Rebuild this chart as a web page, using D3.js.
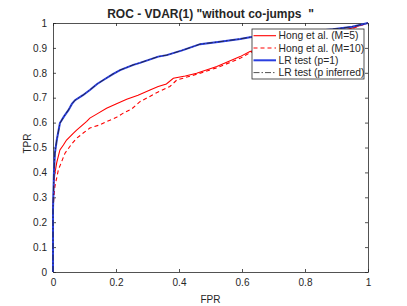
<!DOCTYPE html>
<html>
<head>
<meta charset="utf-8">
<script src="https://d3js.org/d3.v7.min.js"></script>
<style>
  body { margin: 0; background: #fff; }
  text { font-family: "Liberation Sans", Arial, sans-serif; fill: #262626; }
</style>
</head>
<body>
<div id="chart"></div>
<script>
// canvas
var w = 407, h = 306;
var margin = {top: 23, right: 39, bottom: 34, left: 53};
var width = w - margin.left - margin.right;
var height = h - margin.top - margin.bottom;

// data
var hong5Fpr = [0, 0, 0.003, 0.006, 0.012, 0.022, 0.033, 0.043, 0.065, 0.075, 0.107, 0.117, 0.14, 0.17, 0.2, 0.234, 0.27, 0.308, 0.334, 0.36, 0.382, 0.42, 0.456, 0.52, 0.594, 0.625, 0.7, 0.784, 0.85, 0.889, 0.95, 1];
var hong5Tpr = [0, 0.27, 0.36, 0.397, 0.44, 0.49, 0.51, 0.53, 0.558, 0.57, 0.605, 0.618, 0.635, 0.658, 0.675, 0.694, 0.71, 0.731, 0.745, 0.755, 0.778, 0.787, 0.798, 0.825, 0.865, 0.885, 0.905, 0.925, 0.945, 0.96, 0.98, 1];

var hong10Fpr = [0, 0, 0.003, 0.006, 0.017, 0.038, 0.06, 0.075, 0.096, 0.117, 0.149, 0.17, 0.2, 0.223, 0.25, 0.276, 0.3, 0.329, 0.371, 0.393, 0.456, 0.52, 0.594, 0.625, 0.7, 0.784, 0.85, 0.889, 0.95, 1];
var hong10Tpr = [0, 0.25, 0.3, 0.343, 0.41, 0.477, 0.515, 0.537, 0.558, 0.578, 0.591, 0.604, 0.62, 0.638, 0.655, 0.684, 0.7, 0.72, 0.745, 0.771, 0.794, 0.82, 0.858, 0.88, 0.9, 0.92, 0.94, 0.957, 0.978, 1];

var lrFpr = [0, 0, 0.003, 0.006, 0.012, 0.022, 0.035, 0.049, 0.06, 0.07, 0.095, 0.117, 0.14, 0.16, 0.19, 0.213, 0.255, 0.276, 0.334, 0.361, 0.41, 0.467, 0.53, 0.594, 0.625, 0.7, 0.784, 0.85, 0.889, 0.95, 1];
var lrTpr = [0, 0.25, 0.40, 0.477, 0.53, 0.598, 0.625, 0.65, 0.675, 0.69, 0.71, 0.731, 0.755, 0.771, 0.795, 0.811, 0.832, 0.84, 0.865, 0.871, 0.89, 0.915, 0.925, 0.936, 0.943, 0.952, 0.965, 0.97, 0.975, 0.985, 1];
var lrInfTpr = [0, 0.25, 0.40, 0.477, 0.53, 0.597, 0.625, 0.651, 0.675, 0.69, 0.71, 0.731, 0.755, 0.771, 0.795, 0.811, 0.832, 0.84, 0.865, 0.871, 0.89, 0.915, 0.925, 0.936, 0.943, 0.952, 0.965, 0.97, 0.975, 0.985, 1];

var xTicks = [0, 0.2, 0.4, 0.6, 0.8, 1];
var yTicks = [0, 0.1, 0.2, 0.3, 0.4, 0.5, 0.6, 0.7, 0.8, 0.9, 1];

var series = [
  {name: "Hong et al. (M=5)", fpr: hong5Fpr, tpr: hong5Tpr, color: "#ff0000", width: 1.1, dash: null},
  {name: "Hong et al. (M=10)", fpr: hong10Fpr, tpr: hong10Tpr, color: "#ff0000", width: 1.1, dash: "4,3"},
  {name: "LR test (p=1)", fpr: lrFpr, tpr: lrTpr, color: "#2a3fe0", width: 2, dash: null},
  {name: "LR test (p inferred)", fpr: lrFpr, tpr: lrInfTpr, color: "#222222", width: 0.8, dash: "6,2,1.5,2"}
];

var xScale = d3.scaleLinear().domain([0, 1]).range([0, width]);
var yScale = d3.scaleLinear().domain([0, 1]).range([height, 0]);

var svg = d3.select("#chart").append("svg")
    .attr("width", w).attr("height", h)
  .append("g")
    .attr("transform", "translate(" + margin.left + "," + margin.top + ")");

// axes, ticks inward, box on
var fmt = function(d) { return d3.format("")(+d.toFixed(1)); };
var axisColor = "#262626";

svg.append("g").attr("transform", "translate(0," + height + ")")
  .call(d3.axisBottom(xScale).tickValues(xTicks).tickSizeInner(-3).tickSizeOuter(0).tickPadding(7).tickFormat(fmt));
svg.append("g").attr("transform", "translate(0,0)")
  .call(d3.axisTop(xScale).tickValues(xTicks).tickSizeInner(-3).tickSizeOuter(0).tickFormat(""));
svg.append("g")
  .call(d3.axisLeft(yScale).tickValues(yTicks).tickSizeInner(-3).tickSizeOuter(0).tickPadding(6).tickFormat(fmt));
svg.append("g").attr("transform", "translate(" + width + ",0)")
  .call(d3.axisRight(yScale).tickValues(yTicks).tickSizeInner(-3).tickSizeOuter(0).tickFormat(""));

svg.selectAll(".domain").attr("stroke", axisColor).attr("stroke-width", 0.8);
svg.selectAll(".tick line").attr("stroke", axisColor).attr("stroke-width", 0.8);
svg.selectAll(".tick text").style("font-size", "10px").attr("fill", axisColor);

// curves
var line = d3.line()
  .x(function(d) { return xScale(d[0]); })
  .y(function(d) { return yScale(d[1]); });

series.forEach(function(s) {
  var pts = s.fpr.map(function(f, i) { return [f, s.tpr[i]]; });
  svg.append("path")
    .datum(pts)
    .attr("d", line)
    .attr("fill", "none")
    .attr("stroke", s.color)
    .attr("stroke-width", s.width)
    .attr("stroke-dasharray", s.dash);
});

// title and labels
svg.append("text")
  .attr("x", width / 2).attr("y", -5)
  .attr("text-anchor", "middle")
  .style("font-size", "12px").style("font-weight", "bold")
  .style("white-space", "pre")
  .attr("xml:space", "preserve")
  .attr("fill", "#000")
  .text("ROC - VDAR(1) \"without co-jumps  \"");

svg.append("text")
  .attr("x", width / 2).attr("y", height + 30.5)
  .attr("text-anchor", "middle")
  .style("font-size", "10px")
  .text("FPR");

svg.append("text")
  .attr("transform", "translate(" + (-22) + "," + (height / 2 - 4) + ") rotate(-90)")
  .attr("text-anchor", "middle")
  .style("font-size", "10px")
  .text("TPR");

// legend
var lg = svg.append("g").attr("transform", "translate(" + (252 - margin.left) + "," + (29 - margin.top) + ")");
lg.append("rect")
  .attr("width", 112).attr("height", 50)
  .attr("fill", "#fff").attr("stroke", axisColor).attr("stroke-width", 0.8);

series.forEach(function(s, i) {
  var yy = 6.7 + i * 12.3;
  lg.append("line")
    .attr("x1", 1.5).attr("x2", 24).attr("y1", yy).attr("y2", yy)
    .attr("stroke", s.color)
    .attr("stroke-width", s.width)
    .attr("stroke-dasharray", s.dash);
  lg.append("text")
    .attr("x", 26.5).attr("y", yy + 3.5)
    .style("font-size", "10.3px")
    .attr("fill", "#000")
    .text(s.name);
});
</script>
</body>
</html>
